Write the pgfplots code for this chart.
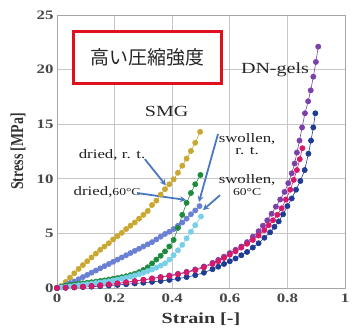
\documentclass[border=0pt]{standalone}
\usepackage{fontspec}
\setmainfont{Liberation Serif}
\newfontfamily\jp{Noto Sans CJK JP}
\usepackage{graphicx}
\usepackage{pgfplots}
\pgfplotsset{compat=1.18}
\usetikzlibrary{arrows.meta}
\newcommand{\sx}[1]{\scalebox{1.3}[1]{#1}}
\definecolor{cyel}{HTML}{C8A830}
\definecolor{cper}{HTML}{6A80D4}
\definecolor{cgrn}{HTML}{1E8A3E}
\definecolor{ccyn}{HTML}{78D0E8}
\definecolor{cpur}{HTML}{7C40A8}
\definecolor{cmag}{HTML}{D81868}
\definecolor{cnav}{HTML}{1E3C94}
\definecolor{carr}{HTML}{4A78C0}
\definecolor{cred}{HTML}{E0101E}
\pgfplotsset{dots/.style={#1, line width=0.6bp, mark=*, mark size=2.6bp, mark options={draw=none, fill=#1}}}
\begin{document}
\begin{tikzpicture}
\useasboundingbox (-57bp,-43bp) rectangle (295bp,288bp);
\begin{axis}[at={(0,0)}, anchor=south west, scale only axis,
  width=288bp, height=273bp,
  xmin=0, xmax=1, ymin=0, ymax=25,
  xtick={0,0.2,0.4,0.6,0.8,1},
  xticklabels={\sx{0},\sx{0.2},\sx{0.4},\sx{0.6},\sx{0.8},\sx{1}},
  ytick={0,5,10,15,20,25},
  yticklabels={\sx{0},\sx{5},\sx{10},\sx{15},\sx{20},\sx{25}},
  grid=major, major grid style={gray!45, line width=0.8bp},
  axis line style={gray!70, line width=0.8bp},
  major tick length=0pt,
  xticklabel style={yshift=-2bp},
  tick label style={font=\fontsize{13}{13}\selectfont\bfseries, text=black!72},
  clip=false]
% SMG dried r.t.
\addplot[dots=cyel] coordinates {(0,0)(0.015,0.2)(0.03,0.55)(0.045,0.95)(0.06,1.35)(0.075,1.75)(0.09,2.1)(0.105,2.45)(0.12,2.8)(0.135,3.15)(0.15,3.5)(0.165,3.8)(0.18,4.1)(0.195,4.45)(0.21,4.75)(0.225,5.05)(0.24,5.4)(0.255,5.7)(0.27,6.0)(0.285,6.35)(0.30,6.7)(0.315,7.05)(0.33,7.6)(0.345,8.0)(0.36,8.55)(0.375,9.05)(0.39,9.5)(0.405,9.95)(0.42,10.55)(0.435,11.2)(0.45,11.85)(0.465,12.55)(0.48,13.3)(0.497,14.3)};
% SMG swollen r.t.
\addplot[dots=cper] coordinates {(0,0)(0.015,0.1)(0.03,0.25)(0.045,0.45)(0.06,0.6)(0.075,0.8)(0.09,1.0)(0.105,1.2)(0.12,1.4)(0.135,1.6)(0.15,1.8)(0.165,2.0)(0.18,2.2)(0.195,2.4)(0.21,2.6)(0.225,2.8)(0.24,3.0)(0.255,3.2)(0.27,3.4)(0.285,3.6)(0.30,3.8)(0.315,4.0)(0.33,4.2)(0.345,4.45)(0.36,4.7)(0.375,4.95)(0.39,5.15)(0.405,5.4)(0.42,5.7)(0.435,6.0)(0.45,6.35)(0.465,6.75)(0.48,7.1)(0.495,7.5)};
% SMG dried 60C
\addplot[dots=cgrn] coordinates {(0,0)(0.015,0.1)(0.03,0.2)(0.045,0.27)(0.06,0.33)(0.075,0.38)(0.09,0.43)(0.105,0.48)(0.12,0.53)(0.135,0.58)(0.15,0.64)(0.165,0.7)(0.18,0.77)(0.195,0.84)(0.21,0.91)(0.225,0.99)(0.24,1.08)(0.255,1.18)(0.27,1.3)(0.285,1.45)(0.30,1.65)(0.315,1.9)(0.33,2.25)(0.345,2.6)(0.36,2.95)(0.375,3.35)(0.39,3.8)(0.405,4.4)(0.42,5.5)(0.435,6.7)(0.45,7.8)(0.465,8.7)(0.48,9.5)(0.498,10.35)};
% SMG swollen 60C
\addplot[dots=ccyn] coordinates {(0,0)(0.015,0.05)(0.03,0.1)(0.045,0.15)(0.06,0.2)(0.075,0.25)(0.09,0.3)(0.105,0.35)(0.12,0.4)(0.135,0.45)(0.15,0.5)(0.165,0.56)(0.18,0.62)(0.195,0.69)(0.21,0.77)(0.225,0.85)(0.24,0.94)(0.255,1.04)(0.27,1.15)(0.285,1.27)(0.30,1.4)(0.315,1.55)(0.33,1.7)(0.345,1.87)(0.36,2.05)(0.375,2.26)(0.39,2.6)(0.405,3.0)(0.42,3.45)(0.435,3.95)(0.45,4.55)(0.465,5.15)(0.48,5.75)(0.50,6.55)};
% DN-gels
\addplot[dots=cpur] coordinates {(0,0)(0.03,0.03)(0.06,0.07)(0.09,0.12)(0.12,0.18)(0.15,0.25)(0.18,0.33)(0.21,0.42)(0.24,0.52)(0.27,0.63)(0.30,0.75)(0.33,0.88)(0.36,1.01)(0.39,1.15)(0.42,1.3)(0.45,1.48)(0.48,1.7)(0.51,1.97)(0.54,2.3)(0.56,2.57)(0.58,2.87)(0.60,3.2)(0.62,3.5)(0.64,3.8)(0.66,4.2)(0.68,4.7)(0.70,5.2)(0.715,5.7)(0.73,6.2)(0.745,6.8)(0.76,7.45)(0.775,8.1)(0.79,8.8)(0.803,9.6)(0.815,10.5)(0.825,11.4)(0.833,12.4)(0.842,13.5)(0.851,14.7)(0.861,16.0)(0.872,17.1)(0.881,18.1)(0.89,19.35)(0.899,20.7)(0.907,22.1)};
\addplot[dots=cnav] coordinates {(0,0)(0.03,0.02)(0.06,0.05)(0.09,0.08)(0.12,0.12)(0.15,0.17)(0.18,0.22)(0.21,0.28)(0.24,0.34)(0.27,0.41)(0.30,0.48)(0.33,0.56)(0.36,0.64)(0.39,0.74)(0.42,0.85)(0.45,1.0)(0.48,1.17)(0.51,1.4)(0.54,1.72)(0.56,1.95)(0.58,2.2)(0.60,2.45)(0.62,2.7)(0.64,3.0)(0.66,3.3)(0.68,3.7)(0.70,4.1)(0.72,4.6)(0.74,5.1)(0.755,5.6)(0.77,6.1)(0.785,6.75)(0.80,7.5)(0.815,8.2)(0.83,9.0)(0.845,9.8)(0.86,10.8)(0.873,12.3)(0.882,13.5)(0.89,14.7)(0.897,16.0)};
\addplot[dots=cmag] coordinates {(0,0)(0.03,0.03)(0.06,0.07)(0.09,0.12)(0.12,0.18)(0.15,0.25)(0.18,0.33)(0.21,0.42)(0.24,0.52)(0.27,0.62)(0.30,0.74)(0.33,0.86)(0.36,0.98)(0.39,1.1)(0.42,1.25)(0.45,1.42)(0.48,1.62)(0.51,1.88)(0.54,2.2)(0.56,2.45)(0.58,2.75)(0.60,3.05)(0.62,3.35)(0.64,3.7)(0.66,4.05)(0.68,4.4)(0.70,4.8)(0.72,5.3)(0.735,5.75)(0.75,6.2)(0.765,6.7)(0.78,7.3)(0.795,8.1)(0.81,9.0)(0.822,9.9)(0.833,10.8)(0.843,11.8)(0.852,12.8)};
% annotations
\begin{scope}[font=\fontsize{13}{14}\selectfont, text=black!88]
\node at (axis cs:0.191,12.18) {\sx{dried, r. t.}};
\node at (axis cs:0.174,8.8) {\sx{dried,{\fontsize{10.5}{10}\selectfont 60°C}}};
\node[align=center] at (axis cs:0.66,13.2) {\sx{swollen,}\\[-2bp]\sx{r. t.}};
\node[align=center] at (axis cs:0.66,9.45) {\sx{swollen,}\\[-2bp]\sx{\fontsize{10.5}{10}\selectfont 60°C}};
\end{scope}
\begin{scope}[carr, line width=1.8bp, -{Stealth[length=6bp,width=6bp]}]
\draw (axis cs:0.305,11.8) -- (axis cs:0.378,9.4);
\draw (axis cs:0.278,8.7) -- (axis cs:0.448,8.06);
\draw (axis cs:0.559,14.1) -- (axis cs:0.493,7.88);
\draw (axis cs:0.566,8.5) -- (axis cs:0.507,7.14);
\end{scope}
\node[font=\fontsize{15.5}{16}\selectfont, text=black!85] at (axis cs:0.381,16.15) {\sx{SMG}};
\node[font=\fontsize{15.5}{16}\selectfont, text=black!85] at (axis cs:0.757,19.96) {\sx{DN-gels}};
\draw[cred, line width=3bp, fill=white] (axis cs:0.057,23.48) rectangle (axis cs:0.572,18.75);
\node[font=\jp\fontsize{19}{20}\selectfont, text=black!85] at (axis cs:0.3145,21.1) {高い圧縮強度};
% axis labels
\node[font=\fontsize{15.5}{16}\selectfont\bfseries, text=black!80] at (axis cs:0.5,-2.84) {\sx{Strain [-]}};
\node[rotate=90, font=\fontsize{14}{15}\selectfont\bfseries, text=black!80] at (axis cs:-0.135,12.5) {\scalebox{1}[1.3]{Stress [MPa]}};
\end{axis}
\end{tikzpicture}
\end{document}
